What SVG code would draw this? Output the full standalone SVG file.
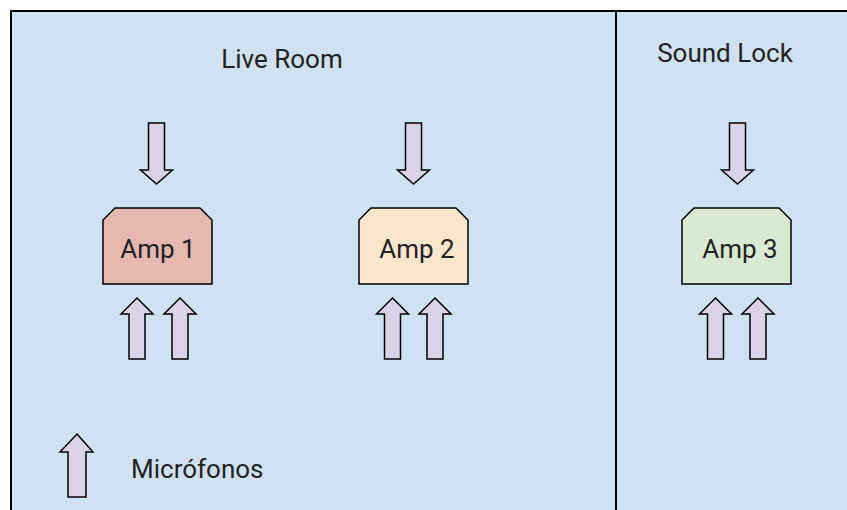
<svg xmlns="http://www.w3.org/2000/svg" width="847" height="510" viewBox="0 0 847 510">
  <style>
    .lbl { font-family: Roboto, "Liberation Sans", Arial, sans-serif; font-size: 26px; fill: #222222; }
    .mid { text-anchor: middle; }
    .amp { stroke: #000000; stroke-width: 1.5; }
    .arrow { fill: #d9d2e9; stroke: #000000; stroke-width: 1.5; stroke-linejoin: miter; }
  </style>
  <defs>
    <polygon id="up" points="0,0 16,16 8,16 8,61 -8,61 -8,16 -16,16"/>
    <polygon id="down" points="-8,0 8,0 8,47 16,47 0,61 -16,47 -8,47"/>
  </defs>
  <rect x="0" y="0" width="847" height="510" fill="#ffffff"/>
  <g id="rooms">
    <rect x="11" y="11" width="850" height="510" fill="#cfe2f3" stroke="#000000" stroke-width="2"/>
    <line x1="616" y1="11" x2="616" y2="512" stroke="#000000" stroke-width="2"/>
    <text class="lbl mid" x="282" y="68">Live Room</text>
    <text class="lbl mid" x="725" y="62">Sound Lock</text>
  </g>
  <g id="amp1">
    <polygon class="amp" fill="#e6b8af" points="115,208 200,208 212,220 212,284 103,284 103,220"/>
    <text class="lbl mid" x="158" y="258">Amp 1</text>
  </g>
  <g id="amp2">
    <polygon class="amp" fill="#fce5cd" points="371,208 456,208 468,220 468,284 359,284 359,220"/>
    <text class="lbl mid" x="417" y="258">Amp 2</text>
  </g>
  <g id="amp3">
    <polygon class="amp" fill="#d9ead3" points="694,208 779,208 791,220 791,284 682,284 682,220"/>
    <text class="lbl mid" x="740" y="258">Amp 3</text>
  </g>
  <g id="legend">
    <polygon class="arrow" points="77,434 93,452 86,452 86,497 68,497 68,452 60,452"/>
    <text class="lbl" x="131" y="478">Micrófonos</text>
  </g>
  <g id="connectors">
    <use href="#down" class="arrow" x="156.5" y="123"/>
    <use href="#down" class="arrow" x="413.5" y="123"/>
    <use href="#down" class="arrow" x="737.5" y="123"/>
    <use href="#up" class="arrow" x="137" y="298"/>
    <use href="#up" class="arrow" x="180" y="298"/>
    <use href="#up" class="arrow" x="392.5" y="298"/>
    <use href="#up" class="arrow" x="435" y="298"/>
    <use href="#up" class="arrow" x="715.5" y="298"/>
    <use href="#up" class="arrow" x="758" y="298"/>
  </g>
</svg>
